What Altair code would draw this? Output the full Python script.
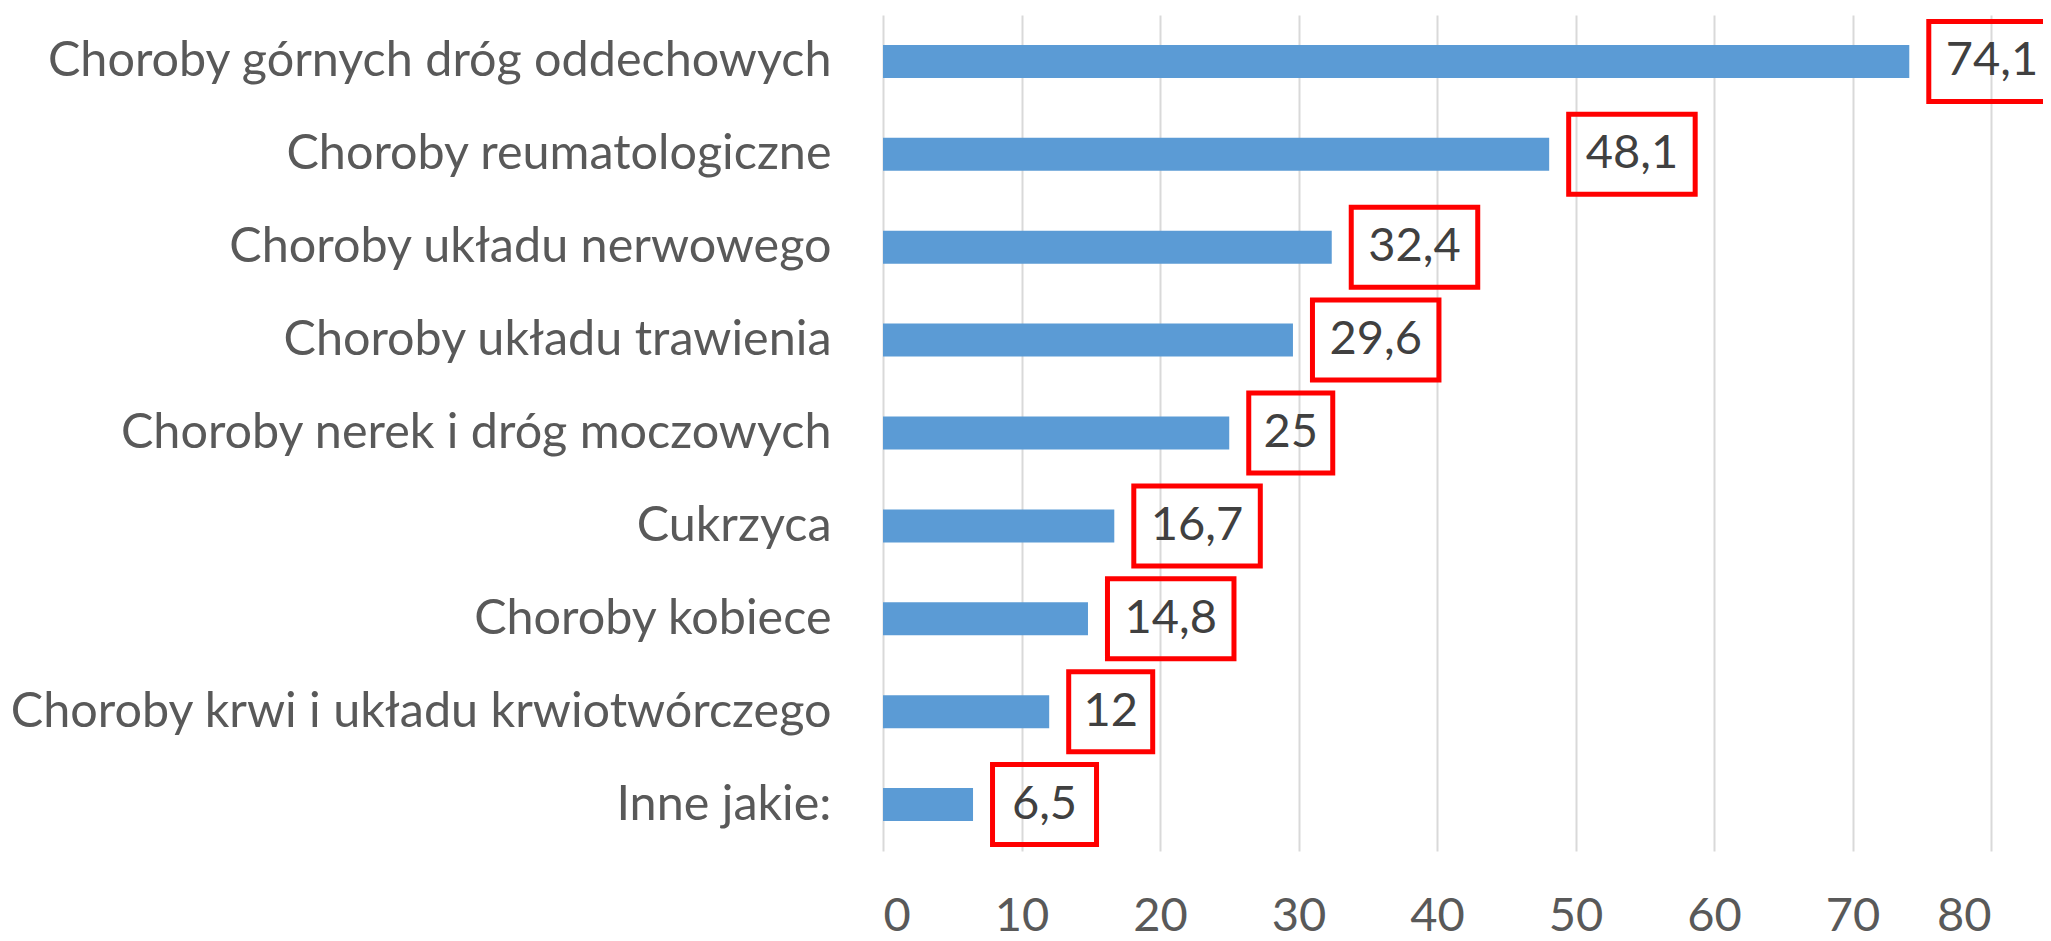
import altair as alt
import pandas as pd

categories = [
    "Choroby górnych dróg oddechowych",
    "Choroby reumatologiczne",
    "Choroby układu nerwowego",
    "Choroby układu trawienia",
    "Choroby nerek i dróg moczowych",
    "Cukrzyca",
    "Choroby kobiece",
    "Choroby krwi i układu krwiotwórczego",
    "Inne jakie:",
]
values = [74.1, 48.1, 32.4, 29.6, 25, 16.7, 14.8, 12, 6.5]
value_labels = ["74,1", "48,1", "32,4", "29,6", "25", "16,7", "14,8", "12", "6,5"]
x_ticks = [0, 10, 20, 30, 40, 50, 60, 70, 80]

W = 1108
H = 836
PX = W / 80.0  # pixels per unit

df = pd.DataFrame({"cat": categories, "val": values, "lab": value_labels})

FONT = "Lato"
FS = 47

base = alt.Chart(df).transform_calculate(
    ndig="length(replace(datum.lab, ',', ''))",
    ncom="length(datum.lab) - length(replace(datum.lab, ',', ''))",
).transform_calculate(
    bx1=f"datum.val + 19.5 / {PX}",
    bx2=f"datum.val + 19.5 / {PX} + (datum.ndig * 22.5 + datum.ncom * 20 + 39) / {PX}",
).transform_calculate(
    bxm="(datum.bx1 + datum.bx2) / 2"
)

yenc = alt.Y(
    "cat:N",
    sort=None,
    title=None,
    scale=alt.Scale(paddingInner=0, paddingOuter=0),
    axis=alt.Axis(
        ticks=False,
        tickSize=0,
        domain=False,
        labelPadding=52,
        labelFont=FONT,
        labelFontSize=48.5,
        labelColor="#595959",
        labelLimit=1000,
        grid=False,
    ),
)

xscale = alt.Scale(domain=[0, 80], nice=False)

bars = base.mark_bar(color="#5B9BD5", size=33).encode(
    x=alt.X(
        "val:Q",
        scale=xscale,
        title=None,
        axis=alt.Axis(
            values=x_ticks,
            ticks=False,
            tickSize=0,
            domain=False,
            labelPadding=42,
            labelFont=FONT,
            labelFontSize=FS,
            labelColor="#595959",
            grid=True,
            gridColor="#d9d9d9",
            gridWidth=2,
        ),
    ),
    y=yenc,
)

boxes = base.mark_bar(
    size=80, fill="white", fillOpacity=0, stroke="#FF0000", strokeWidth=5
).encode(
    x=alt.X("bx1:Q", scale=xscale),
    x2="bx2:Q",
    y=alt.Y("cat:N", sort=None),
)

texts = base.mark_text(
    font=FONT, fontSize=FS, color="#404040", align="center", baseline="middle"
).encode(
    x=alt.X("bxm:Q", scale=xscale),
    y=alt.Y("cat:N", sort=None),
    text="lab:N",
)

chart = alt.layer(bars, boxes, texts).properties(
    width=W,
    height=H,
    padding={"left": 875, "top": 7, "right": 52, "bottom": 90},
    autosize=alt.AutoSizeParams(type="none"),
).configure_view(stroke=None)

chart.save("out.html", embed_options={"renderer": "svg", "actions": False})
